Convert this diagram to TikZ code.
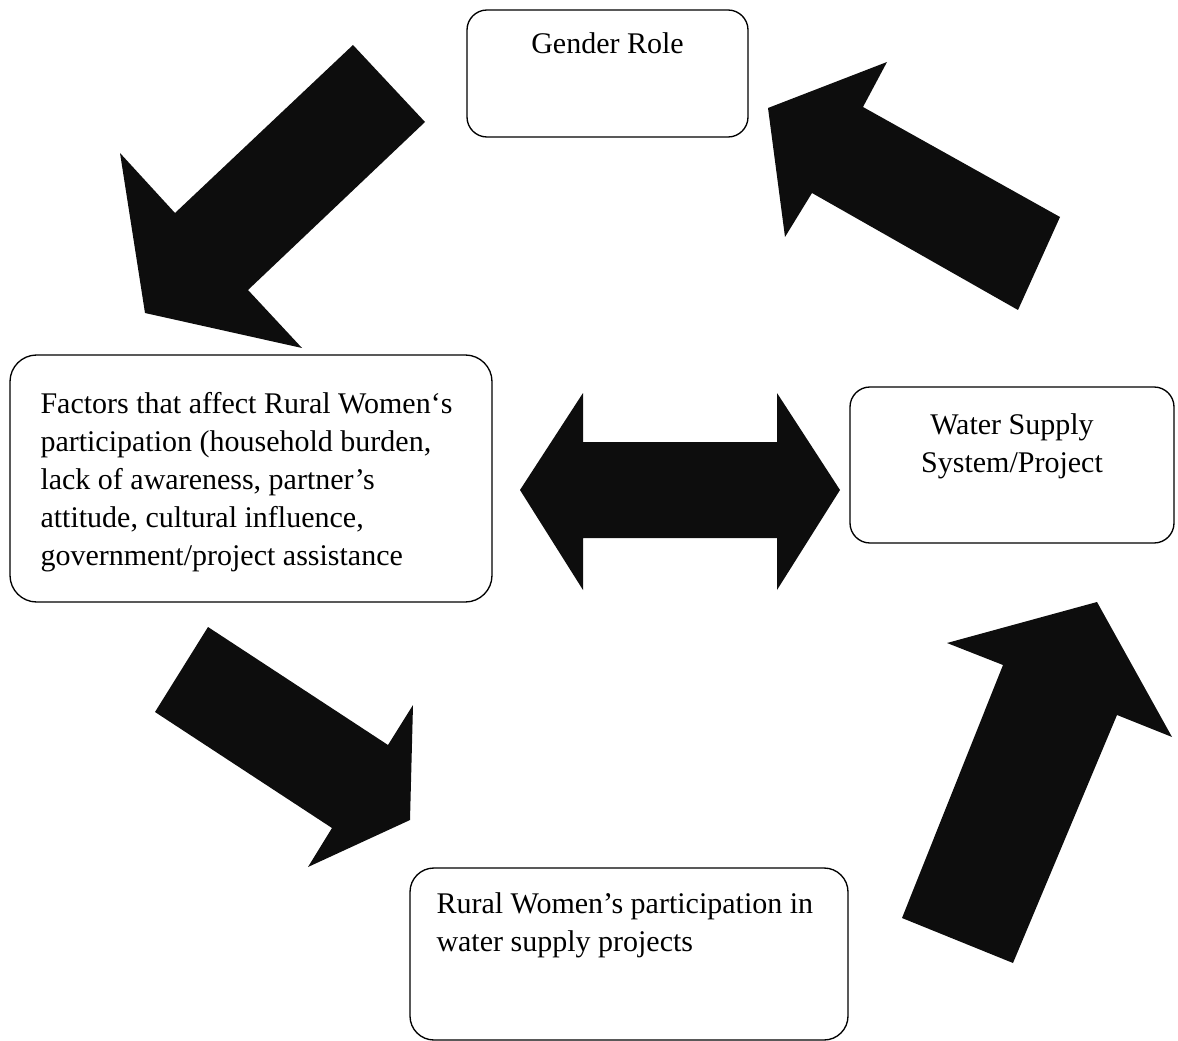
\documentclass[tikz,border=0pt]{standalone}
\usepackage{fontspec}
\setmainfont{Liberation Serif}
\usetikzlibrary{positioning}
\tikzset{every picture/.style={line width=0.75pt}}

\begin{document}
\begin{tikzpicture}[x=0.75pt,y=-0.75pt,
        box/.style={draw, line width=1pt, rounded corners=15pt, inner sep=0pt},
        txt/.style={inner sep=0pt, font=\fontsize{22.5}{28.5}\selectfont},
        blockarrow/.style={fill=black!95}]
        \useasboundingbox (0,0) rectangle (1178,1041);
        % boxes
        \node[box, minimum width=210.75pt, minimum height=95.25pt] (gender) at (607.5,73.5) {};
        \node[box, rounded corners=20pt, minimum width=361.5pt, minimum height=185.25pt] (factors) at (251,478.5) {};
        \node[box, minimum width=243pt, minimum height=117pt] (water) at (1012,465) {};
        \node[box, rounded corners=18pt, minimum width=328.5pt, minimum height=129pt] (rural) at (629,954) {};
        % texts
        \node[txt, below=17pt of gender.north] (genderText) {Gender Role};
        \node[txt, align=left, below right=28pt and 23pt of factors.north west] (factorsText)
            {Factors that affect Rural Women‘s\\participation (household burden,\\lack of awareness, partner’s\\attitude, cultural influence,\\government/project assistance};
        \node[txt, align=center, below=20.5pt of water.north] (waterText) {Water Supply\\System/Project};
        \node[txt, align=left, below right=19pt and 20pt of rural.north west] (ruralText)
            {Rural Women’s participation in\\water supply projects};
        % block arrows
        \fill[blockarrow] (353,45) -- (425,122) -- (248,290) -- (302,348) -- (145,313) -- (120,153) -- (175,213) -- cycle;
        \fill[blockarrow] (768,108) -- (887,62) -- (863,107) -- (1060,217) -- (1018,310) -- (812,193) -- (785,237) -- cycle;
        \fill[blockarrow] (520,490) -- (583,393) -- (583,442) -- (777,442) -- (777,393) -- (840,490)
            -- (777,590) -- (777,538) -- (583,538) -- (583,590) -- cycle;
        \fill[blockarrow] (208,627) -- (388,745) -- (413,705) -- (410,820) -- (308,867) -- (332,828) -- (155,712) -- cycle;
        \fill[blockarrow] (902,918) -- (1003,665) -- (947,643) -- (1097,602) -- (1172,737) -- (1117,715) -- (1013,963) -- cycle;
\end{tikzpicture}
\end{document}
